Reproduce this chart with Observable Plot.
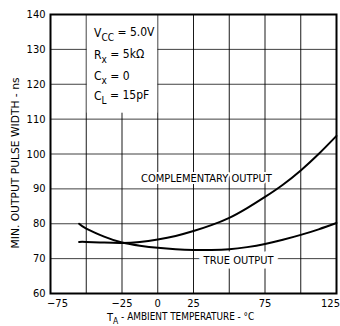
<!DOCTYPE html>
<html><head><meta charset="utf-8">
<script src="https://cdn.jsdelivr.net/npm/d3@7"></script>
<script src="https://cdn.jsdelivr.net/npm/@observablehq/plot@0.6"></script>
<style>body{margin:0;background:#fff} svg{display:block}</style>
</head><body><div id="chart"></div>
<script>
// Temperature samples (°C)
const temps = [-55, -50, -37.5, -25, -12.5, 0, 12.5, 25, 37.5, 50, 62.5, 75, 87.5, 100, 112.5, 125];
// Minimum output pulse width (ns)
const trueOutput = [80.0, 78.6, 76.3, 74.6, 73.7, 73.1, 72.7, 72.5, 72.5, 72.7, 73.3, 74.2, 75.4, 76.8, 78.4, 80.2];
const compOutput = [74.8, 74.8, 74.6, 74.5, 74.8, 75.5, 76.5, 77.9, 79.6, 81.7, 84.5, 87.7, 91.2, 95.3, 100.0, 105.2];
const seriesNames = ["TRUE OUTPUT", "COMPLEMENTARY OUTPUT"];
const xTickLabels = [-75, -25, 0, 25, 75, 125];
const xGridValues = [-75, -50, -25, 0, 25, 50, 75, 100, 125];
const yTickLabels = [60, 70, 80, 90, 100, 110, 120, 130, 140];
const conditions = [["V", "CC", " = 5.0V"], ["R", "x", " = 5kΩ"], ["C", "x", " = 0"], ["C", "L", " = 15pF"]];
const xTitle = ["T", "A", " - AMBIENT TEMPERATURE - °C"];
const yTitle = "MIN. OUTPUT PULSE WIDTH - ns";

const rows = temps.flatMap((t, i) => [
  {t, v: trueOutput[i], s: seriesNames[0]},
  {t, v: compOutput[i], s: seriesNames[1]}
]);
const FONT = '"Liberation Sans Narrow","DejaVu Sans Condensed","Arial Narrow",sans-serif';

const chart = Plot.plot({
  width: 340, height: 326,
  marginLeft: 50, marginRight: 4, marginTop: 14, marginBottom: 33,
  style: {fontFamily: FONT, fontSize: "11px", background: "#fff", color: "#000"},
  x: {domain: [-75, 125]},
  y: {domain: [60, 140]},
  marks: [
    Plot.gridX(xGridValues, {stroke: "#000", strokeOpacity: 0.9, strokeWidth: 1}),
    Plot.gridY(yTickLabels, {stroke: "#000", strokeOpacity: 0.75, strokeWidth: 1}),
    Plot.rect([0], {x1: -49.3, x2: 0, y1: 111.7, y2: 140, fill: "#fff"}),
    Plot.line(rows, {x: "t", y: "v", z: "s", stroke: "#000", strokeWidth: 2, curve: "natural"}),
    Plot.text([seriesNames[1]], {x: 34, y: 93, text: d => d, fill: "#000", stroke: "#fff", strokeWidth: 4, fontSize: 11}),
    Plot.text([seriesNames[0]], {x: 56.5, y: 69.6, text: d => d, fill: "#000", stroke: "#fff", strokeWidth: 9, fontSize: 11}),
    Plot.frame({stroke: "#000", strokeWidth: 2}),
    Plot.axisY(yTickLabels, {tickSize: 0, tickPadding: 5, fontSize: 11, label: null}),
    Plot.axisX(xTickLabels.slice(0, 1), {tickSize: 0, tickPadding: 6, dx: 7, fontSize: 11, label: null}),
    Plot.axisX(xTickLabels.slice(1, -1), {tickSize: 0, tickPadding: 6, fontSize: 11, label: null}),
    Plot.axisX(xTickLabels.slice(-1), {tickSize: 0, tickPadding: 6, dx: -6, fontSize: 11, label: null})
  ]
});

const svg = d3.select(chart);
const sx = chart.scale("x"), sy = chart.scale("y");

// Test conditions block
const condY = [134.6, 128.3, 122.2, 116.5];
conditions.forEach((c, i) => {
  const t = svg.append("text")
    .attr("x", sx.apply(-44.2)).attr("y", sy.apply(condY[i]))
    .attr("dy", "0.35em").attr("text-anchor", "start")
    .attr("font-family", FONT).attr("font-size", 12).attr("fill", "#000");
  t.append("tspan").text(c[0]);
  t.append("tspan").attr("font-size", 10).attr("dy", "0.35em").text(c[1]);
  t.append("tspan").attr("dy", "-0.35em").text(c[2]);
});

// X axis title
const xt = svg.append("text")
  .attr("x", 107).attr("y", 321).attr("text-anchor", "start")
  .attr("font-family", FONT).attr("font-size", 11).attr("fill", "#000");
xt.append("tspan").text(xTitle[0]);
xt.append("tspan").attr("font-size", 8.5).attr("dy", "0.3em").text(xTitle[1]);
xt.append("tspan").attr("dy", "-0.3em").attr("textLength", 136).attr("lengthAdjust", "spacingAndGlyphs").text(xTitle[2]);

// Y axis title
svg.append("text")
  .attr("transform", "translate(15,163) rotate(-90)")
  .attr("text-anchor", "middle").attr("dy", "0.35em")
  .attr("font-family", FONT).attr("font-size", 11).attr("fill", "#000")
  .attr("textLength", 171).attr("lengthAdjust", "spacingAndGlyphs")
  .text(yTitle);

document.getElementById("chart").append(chart);
</script>
</body></html>
